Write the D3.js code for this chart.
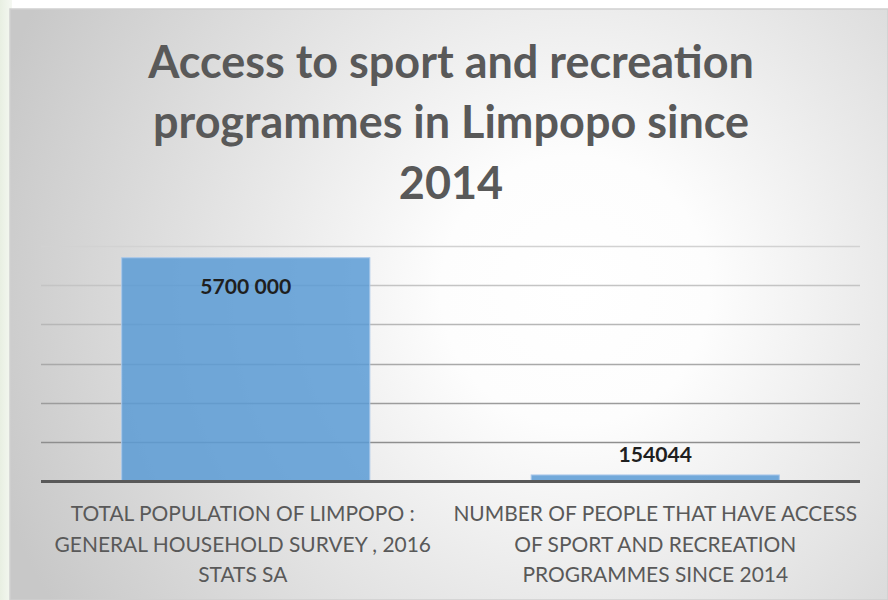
<!DOCTYPE html>
<html><head><meta charset="utf-8">
<script src="https://cdn.jsdelivr.net/npm/d3@7/dist/d3.min.js"></script>
<style>body{margin:0;background:#fff}svg{display:block}</style>
</head><body>
<svg id="c" width="888" height="600"></svg>
<script>
const categories = [
  ["TOTAL POPULATION OF LIMPOPO :", "GENERAL HOUSEHOLD SURVEY , 2016", "STATS SA"],
  ["NUMBER OF PEOPLE THAT HAVE ACCESS", "OF SPORT AND RECREATION", "PROGRAMMES SINCE 2014"]
];
const values = [5700000, 154044];
const valueLabels = ["5700 000", "154044"];
const yTicks = [0, 1000000, 2000000, 3000000, 4000000, 5000000, 6000000];
const titleLines = ["Access to sport and recreation", "programmes in Limpopo since", "2014"];

(function(){
const svg = d3.select("#c");
const FONT = "Lato, 'Open Sans', sans-serif";
const defs = svg.append("defs");
const rg = defs.append("radialGradient").attr("id","bg")
  .attr("gradientUnits","userSpaceOnUse").attr("cx",575).attr("cy",290).attr("r",610);
rg.append("stop").attr("offset","0").attr("stop-color","#ffffff");
rg.append("stop").attr("offset","0.22").attr("stop-color","#fdfdfd");
rg.append("stop").attr("offset","1").attr("stop-color","#c8c8c8");
const lg = defs.append("linearGradient").attr("id","side").attr("x1",0).attr("x2",1);
lg.append("stop").attr("offset",0).attr("stop-color","#e8efe2");
lg.append("stop").attr("offset",1).attr("stop-color","#f5f8f2");

svg.append("rect").attr("x",0).attr("y",0).attr("width",12).attr("height",600).attr("fill","url(#side)");
svg.append("rect").attr("x",10).attr("y",9).attr("width",878).attr("height",591)
  .attr("fill","url(#bg)").attr("stroke","#cfcfcf").attr("stroke-width",1.5);

const pl = 41, pr = 860, pt = 246, pb = 481;
const x = d3.scaleBand().domain(d3.range(values.length)).range([pl, pr]).paddingInner(0.394).paddingOuter(0.197);
const y = d3.scaleLinear().domain([0, 6000000]).range([pb, pt]);
const gridColor = d3.scaleLinear().domain([1000000, 6000000]).range(["#8e8e8e", "#d2d2d2"]);

svg.append("g").selectAll("line").data(yTicks.filter(d=>d>0)).join("line")
  .attr("x1",pl).attr("x2",pr).attr("y1",d=>Math.round(y(d))+0.5).attr("y2",d=>Math.round(y(d))+0.5)
  .attr("stroke",d=>gridColor(d)).attr("stroke-width",1.3);

svg.append("g").selectAll("rect").data(values).join("rect")
  .attr("x",(d,i)=>x(i)).attr("width",x.bandwidth())
  .attr("y",d=>y(d)).attr("height",d=>pb - y(d))
  .attr("fill","#5b9bd5").attr("fill-opacity",0.85)
  .attr("stroke","#a9c8ea").attr("stroke-width",1);

svg.append("line").attr("x1",pl).attr("x2",pr).attr("y1",pb+0.5).attr("y2",pb+0.5)
  .attr("stroke","#595959").attr("stroke-width",3);

function fit(sel, target){
  const w = sel.node().getComputedTextLength();
  const fs = parseFloat(sel.attr("font-size"));
  sel.attr("font-size", fs * target / w);
}

const vl = svg.append("g").selectAll("text").data(values).join("text")
  .attr("x",(d,i)=>x(i)+x.bandwidth()/2)
  .attr("y",(d,i)=> i===0 ? y(d)+36 : y(d)-13)
  .attr("text-anchor","middle")
  .attr("font-family",FONT).attr("font-weight","bold")
  .attr("font-size",17).attr("fill","#1f1f1f")
  .text((d,i)=>valueLabels[i]);
fit(d3.select(vl.nodes()[0]), 91);
vl.attr("font-size", d3.select(vl.nodes()[0]).attr("font-size"));

const cg = svg.append("g").selectAll("text").data(categories).join("text")
  .attr("text-anchor","middle")
  .attr("font-family",FONT).attr("font-size",20).attr("fill","#595959");
cg.each(function(lines,i){
  d3.select(this).selectAll("tspan").data(lines).join("tspan")
    .attr("x", x(i)+x.bandwidth()/2 - (i===0?3:0)).attr("y",(l,j)=>521 + j*30.5).text(l=>l);
});
{
  const t = svg.append("text").attr("font-family",FONT).attr("font-size",20).text(categories[1][0]);
  const w = t.node().getComputedTextLength(); t.remove();
  cg.attr("font-size", 20*404/w);
}

const tt = svg.append("g").selectAll("text").data(titleLines).join("text")
  .attr("x",451).attr("y",(d,i)=>77.5 + i*60.5)
  .attr("text-anchor","middle")
  .attr("font-family",FONT).attr("font-weight","bold")
  .attr("font-size",41).attr("fill","#595959")
  .text(d=>d);
{
  const w = tt.nodes()[0].getComputedTextLength();
  tt.attr("font-size", 41*606/w);
}
})();
</script>
</body></html>
